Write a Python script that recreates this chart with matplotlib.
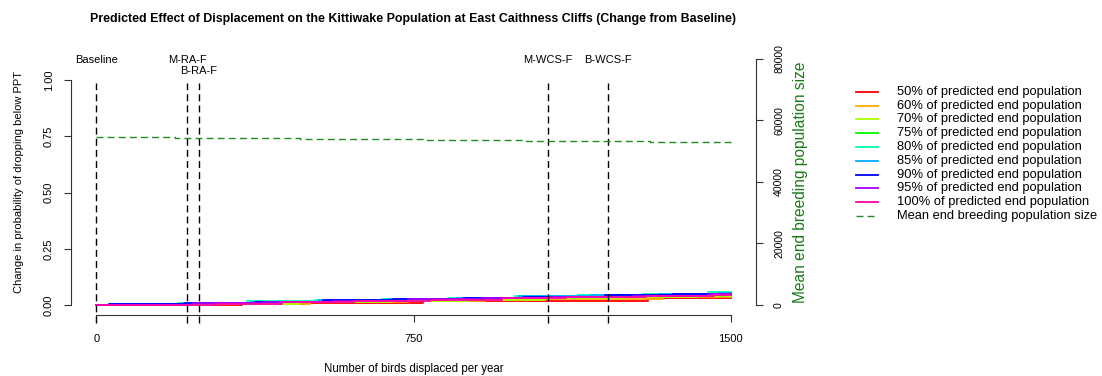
import matplotlib
matplotlib.use("Agg")
import matplotlib.pyplot as plt
from matplotlib.lines import Line2D

plt.rcParams['font.family'] = ['Liberation Sans', 'DejaVu Sans']

# ---------------- data ----------------
labels = ["50% of predicted end population", "60% of predicted end population",
          "70% of predicted end population", "75% of predicted end population",
          "80% of predicted end population", "85% of predicted end population",
          "90% of predicted end population", "95% of predicted end population",
          "100% of predicted end population"]
colors = ["#FF0000", "#FFAA00", "#AAFF00", "#00FF00", "#00FFAA",
          "#00AAFF", "#0000FF", "#AA00FF", "#FF00AA"]

x_50 = [0, 60, 345, 490, 772, 1304]
p_50 = [0, 0.001, 0.004, 0.009, 0.016, 0.029]
x_60 = [0, 45, 274, 505, 737, 919, 1340]
p_60 = [0, 0.001, 0.004, 0.012, 0.018, 0.027, 0.037]
x_70 = [0, 40, 250, 480, 700, 880, 1060, 1250, 1420]
p_70 = [0, 0.002, 0.006, 0.012, 0.018, 0.024, 0.030, 0.036, 0.041]
x_75 = [0, 35, 220, 380, 540, 700, 870, 1030, 1200, 1380]
p_75 = [0, 0.002, 0.007, 0.013, 0.019, 0.025, 0.030, 0.035, 0.041, 0.046]
x_80 = [0, 30, 194, 357, 517, 676, 832, 990, 1139, 1292, 1446]
p_80 = [0, 0.003, 0.009, 0.016, 0.022, 0.028, 0.033, 0.039, 0.045, 0.050, 0.056]
x_85 = [0, 32, 205, 366, 527, 690, 850, 1000, 1170, 1330, 1470]
p_85 = [0, 0.003, 0.008, 0.015, 0.021, 0.027, 0.032, 0.038, 0.044, 0.049, 0.055]
x_90 = [0, 31, 210, 375, 536, 702, 867, 1009, 1202, 1363]
p_90 = [0, 0.003, 0.008, 0.014, 0.021, 0.026, 0.031, 0.037, 0.043, 0.050]
x_95 = [0, 31, 225, 395, 560, 737, 914, 1073, 1269, 1446]
p_95 = [0, 0.002, 0.007, 0.013, 0.020, 0.025, 0.030, 0.036, 0.042, 0.048]
x_100 = [0, 150, 280, 440, 610, 790, 960, 1110, 1300, 1460]
p_100 = [0, 0.002, 0.006, 0.012, 0.018, 0.024, 0.029, 0.035, 0.040, 0.045]

x_series = [x_50, x_60, x_70, x_75, x_80, x_85, x_90, x_95, x_100]
p_series = [p_50, p_60, p_70, p_75, p_80, p_85, p_90, p_95, p_100]

pop_x = [0, 187, 482, 772, 1009, 1309]
pop_mean = [54600, 54300, 54000, 53700, 53400, 53100]

scenario_names = ["Baseline", "M-RA-F", "B-RA-F", "M-WCS-F", "B-WCS-F"]
scenario_x = [0, 215, 243, 1068, 1209]
scenario_label_y = [1.089, 1.089, 1.041, 1.089, 1.089]

x_max = 1500
x_ticks = [0, 750, 1500]
y_ticks = [0.0, 0.25, 0.5, 0.75, 1.0]
y_tick_labels = ["0.00", "0.25", "0.50", "0.75", "1.00"]
pop_ticks = [0, 20000, 40000, 60000, 80000]

# ---------------- figure ----------------
W, H = 1102, 376
fig = plt.figure(figsize=(W / 100, H / 100), dpi=100)
L, R, T, B = 71, 756, 49.2, 314.9
ax = fig.add_axes([L / W, 1 - B / H, (R - L) / W, (B - T) / H])
ax.set_xlim(-60, 1560)
ax.set_ylim(-0.044, 1.137)

for xs, ps, c in zip(x_series, p_series, colors):
    ax.step(list(xs) + [x_max], list(ps) + [ps[-1]], where='post', color=c, lw=1.3, zorder=3)

for name, sx, ly in zip(scenario_names, scenario_x, scenario_label_y):
    ax.vlines(sx, -0.08, 0.987, colors='black', linestyles=(0, (5, 3)), lw=1.0, clip_on=False, zorder=4)
    ax.text(sx, ly, name, ha='center', va='center', fontsize=8)

for s in ['top', 'right']:
    ax.spines[s].set_visible(False)
ax.spines['left'].set_bounds(0, 1)
ax.spines['bottom'].set_bounds(0, x_max)
ax.spines['left'].set_color('#333333')
ax.spines['bottom'].set_color('#333333')
ax.set_xticks(x_ticks)
ax.set_xticklabels([str(t) for t in x_ticks], fontsize=8)
ax.set_yticks(y_ticks)
ax.set_yticklabels(y_tick_labels, fontsize=8, rotation=90, va='center')
ax.tick_params(axis='x', length=5, pad=9, color='#333333')
ax.tick_params(axis='y', length=5, pad=7.5, color='#333333')

ax2 = ax.twinx()
ax2.set_ylim(-3220, 83187)
ax2.step(list(pop_x) + [x_max], list(pop_mean) + [pop_mean[-1]], where='post',
         color='#228B22', lw=1.0, linestyle=(0, (5, 3)), zorder=3)
for s in ['top', 'left', 'bottom']:
    ax2.spines[s].set_visible(False)
ax2.spines['right'].set_bounds(0, 80000)
ax2.spines['right'].set_color('#333333')
ax2.set_yticks(pop_ticks)
ax2.set_yticklabels([str(t) for t in pop_ticks], fontsize=7.6, rotation=90, va='center')
ax2.tick_params(axis='y', length=5, pad=8, color='#333333')

# titles / labels
fig.text((L + R) / 2 / W, 1 - 19 / H,
         "Predicted Effect of Displacement on the Kittiwake Population at East Caithness Cliffs (Change from Baseline)",
         ha='center', va='center', fontsize=8.9, fontweight='bold')
fig.text((L + R) / 2 / W, 1 - 369 / H, "Number of birds displaced per year",
         ha='center', va='center', fontsize=8.3)
fig.text(19 / W, 1 - 182 / H, "Change in probability of dropping below PPT",
         ha='center', va='center', fontsize=8, rotation=90)
fig.text(800 / W, 1 - 182 / H, "Mean end breeding population size",
         ha='center', va='center', fontsize=11.2, rotation=90, color='#1B7A1B')

# legend (drawn row by row to match spacing)
leg_labels = labels + ["Mean end breeding population size"]
leg_colors = colors + ['#228B22']
leg_styles = ['-'] * len(colors) + [(0, (5, 3))]
for i, (lab, c, ls) in enumerate(zip(leg_labels, leg_colors, leg_styles)):
    yrow = 1 - (91.7 + 13.8 * i) / H
    fig.add_artist(Line2D([856 / W, 878 / W], [yrow, yrow], color=c, lw=1.3 if ls == '-' else 1.0,
                          linestyle=ls, transform=fig.transFigure))
    fig.text(897 / W, yrow, lab, ha='left', va='center', fontsize=9.3)

fig.savefig("out.png", dpi=100)
